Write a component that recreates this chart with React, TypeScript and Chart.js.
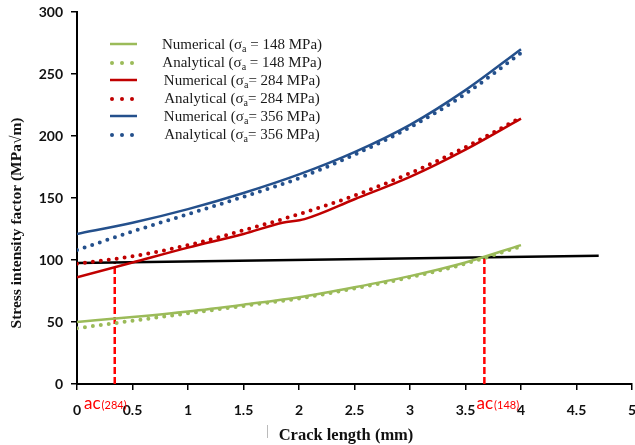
import React, { useEffect, useRef } from "react";
import { Chart, registerables } from "chart.js";

Chart.register(...registerables);

// ---- data ----
const crackLength = [0, 0.5, 1, 1.5, 2, 2.5, 3, 3.5, 4];
const num148 = [50, 54, 58.5, 64, 70, 78, 87, 98, 112];
const ana148 = [45, 51, 57, 63, 69, 77, 86, 97, 111];
const crackLengthNum284 = [0, 0.5, 1, 1.5, 1.85, 2.05, 2.5, 3, 3.5, 4];
const num284 = [86, 98, 110, 121, 130, 133, 149, 167, 189, 214];
const ana284 = [97, 103, 112, 124, 137, 152, 170, 191, 215];
const num356 = [121, 130, 141, 154, 169, 187, 209, 237, 270];
const ana356 = [108, 123, 137, 151, 166, 185, 207, 234, 267];
const thresholdX = [0, 4.7];
const thresholdY = [97.5, 103.5];
const criticalX = [0.34, 3.67];
const criticalY = [98, 101.5];
const criticalLabels = ["(284)", "(148)"];
const legendLabels = [
  "Numerical (σa = 148 MPa)",
  "Analytical (σa = 148 MPa)",
  "Numerical (σa= 284 MPa)",
  "Analytical (σa= 284 MPa)",
  "Numerical (σa= 356 MPa)",
  "Analytical (σa= 356 MPa)",
];
const xTitle = "Crack length (mm)";
const yTitle = "Stress intensity factor (MPa√m)";

const GREEN = "#9BBB59";
const RED = "#C00000";
const BLUE = "#24508C";

const pts = (xs: number[], ys: number[]) => ys.map((y, i) => ({ x: xs[i], y }));

const solid = (label: string, data: any, color: string) => ({
  label,
  data,
  borderColor: color,
  backgroundColor: color,
  borderWidth: 2.5,
  pointRadius: 0,
  cubicInterpolationMode: "monotone" as const,
  fill: false,
});
const dotted = (label: string, data: any, color: string) => ({
  label,
  data,
  borderColor: color,
  backgroundColor: color,
  borderWidth: 4,
  borderDash: [0, 8],
  borderCapStyle: "round" as const,
  pointRadius: 0,
  cubicInterpolationMode: "monotone" as const,
  fill: false,
});

const decorPlugin = {
  id: "decor",
  beforeDatasetsDraw(chart: any) {
    const { ctx, scales } = chart;
    const xs = scales.x;
    const ys = scales.y;
    ctx.save();
    ctx.strokeStyle = "#FF0000";
    ctx.lineWidth = 2.5;
    ctx.setLineDash([7, 3]);
    criticalX.forEach((cx, i) => {
      const px = xs.getPixelForValue(cx);
      ctx.beginPath();
      ctx.moveTo(px, ys.getPixelForValue(0));
      ctx.lineTo(px, ys.getPixelForValue(criticalY[i]));
      ctx.stroke();
    });
    ctx.restore();
  },
  afterDraw(chart: any) {
    const { ctx, scales } = chart;
    const xs = scales.x;
    ctx.save();
    // ac labels
    const acStarts = [xs.getPixelForValue(0) + 7, xs.getPixelForValue(3.5) + 11];
    criticalLabels.forEach((lab, i) => {
      ctx.fillStyle = "#FF0000";
      ctx.textBaseline = "alphabetic";
      ctx.textAlign = "left";
      ctx.font = "17px Lato";
      const x0 = acStarts[i];
      ctx.fillText("ac", x0, 409);
      const w = ctx.measureText("ac").width;
      ctx.font = "11px Lato";
      ctx.fillText(lab, x0 + w + 1, 409);
    });

    // axis titles
    ctx.fillStyle = "#111";
    ctx.font = "bold 16.5px 'Liberation Serif'";
    ctx.textAlign = "center";
    ctx.textBaseline = "middle";
    ctx.fillText(xTitle, 346, 436);
    ctx.font = "bold 15.5px 'Liberation Serif'";
    ctx.save();
    ctx.translate(17, 223);
    ctx.rotate(-Math.PI / 2);
    ctx.fillText(yTitle, 0, 0);
    ctx.restore();

    // small artifact mark
    ctx.strokeStyle = "#bbbbbb";
    ctx.lineWidth = 1;
    ctx.beginPath();
    ctx.moveTo(267.5, 425);
    ctx.lineTo(267.5, 438);
    ctx.stroke();

    // legend
    const ds = chart.data.datasets;
    for (let i = 0; i < 6; i++) {
      const y = 44 + i * 18;
      const d = ds[i];
      ctx.strokeStyle = d.borderColor;
      ctx.fillStyle = d.borderColor;
      if (i % 2 === 0) {
        ctx.lineWidth = 2.5;
        ctx.beginPath();
        ctx.moveTo(110, y);
        ctx.lineTo(137, y);
        ctx.stroke();
      } else {
        [112, 122, 132].forEach((dx) => {
          ctx.beginPath();
          ctx.arc(dx, y + 1, 2, 0, Math.PI * 2);
          ctx.fill();
        });
      }
      const label = legendLabels[i];
      const [before, after] = label.split("σa");
      const big = "15px 'Liberation Serif'";
      const small = "10px 'Liberation Serif'";
      ctx.font = big;
      const w1 = ctx.measureText(before + "σ").width;
      const w3 = ctx.measureText(after).width;
      ctx.font = small;
      const w2 = ctx.measureText("a").width;
      const total = w1 + w2 + w3;
      let x = 242 - total / 2;
      ctx.fillStyle = "#1a1a1a";
      ctx.textAlign = "left";
      ctx.textBaseline = "alphabetic";
      const base = y + 5;
      ctx.font = big;
      ctx.fillText(before + "σ", x, base);
      x += w1;
      ctx.font = small;
      ctx.fillText("a", x, base + 3);
      x += w2;
      ctx.font = big;
      ctx.fillText(after, x, base);
    }
    ctx.restore();
  },
};

export default function App() {
  const ref = useRef<HTMLCanvasElement | null>(null);
  useEffect(() => {
    if (!ref.current) return;
    const chart = new Chart(ref.current, {
      type: "line",
      data: {
        datasets: [
          solid(legendLabels[0], pts(crackLength, num148), GREEN),
          dotted(legendLabels[1], pts(crackLength, ana148), GREEN),
          solid(legendLabels[2], pts(crackLengthNum284, num284), RED),
          dotted(legendLabels[3], pts(crackLength, ana284), RED),
          solid(legendLabels[4], pts(crackLength, num356), BLUE),
          dotted(legendLabels[5], pts(crackLength, ana356), BLUE),
          {
            label: "threshold",
            data: pts(thresholdX, thresholdY),
            borderColor: "#000",
            borderWidth: 2.5,
            pointRadius: 0,
            fill: false,
          } as any,
        ],
      },
      options: {
        animation: false,
        responsive: false,
        layout: { padding: { left: 30, top: 12, right: 3, bottom: 0 } },
        plugins: { legend: { display: false }, tooltip: { enabled: false } },
        scales: {
          x: {
            type: "linear",
            min: 0,
            max: 5,
            afterFit: (s: any) => {
              s.height = 61;
              s.paddingLeft = 0;
              s.paddingRight = 0;
            },
            ticks: {
              stepSize: 0.5,
              padding: 12,
              color: "#111",
              font: { family: "Lato", weight: "bold", size: 14 },
              callback: (v: any) => String(v),
            },
            grid: { drawOnChartArea: false, drawTicks: true, tickLength: 6, color: "#000", lineWidth: 1.5 },
            border: { color: "#000", width: 2 },
          },
          y: {
            type: "linear",
            min: 0,
            max: 300,
            afterFit: (s: any) => {
              s.width = 47;
              s.paddingTop = 0;
              s.paddingBottom = 0;
            },
            ticks: {
              stepSize: 50,
              padding: 8,
              color: "#111",
              font: { family: "Lato", weight: "bold", size: 14 },
            },
            grid: { drawOnChartArea: false, drawTicks: true, tickLength: 6, color: "#000", lineWidth: 1.5 },
            border: { color: "#000", width: 2 },
          },
        },
      } as any,
      plugins: [decorPlugin],
    });
    return () => chart.destroy();
  }, []);
  return (
    <div style={{ position: "fixed", left: 0, top: 0, width: 635, height: 445, background: "#fff" }}>
      <canvas ref={ref} width={635} height={445} style={{ display: "block" }} />
    </div>
  );
}
